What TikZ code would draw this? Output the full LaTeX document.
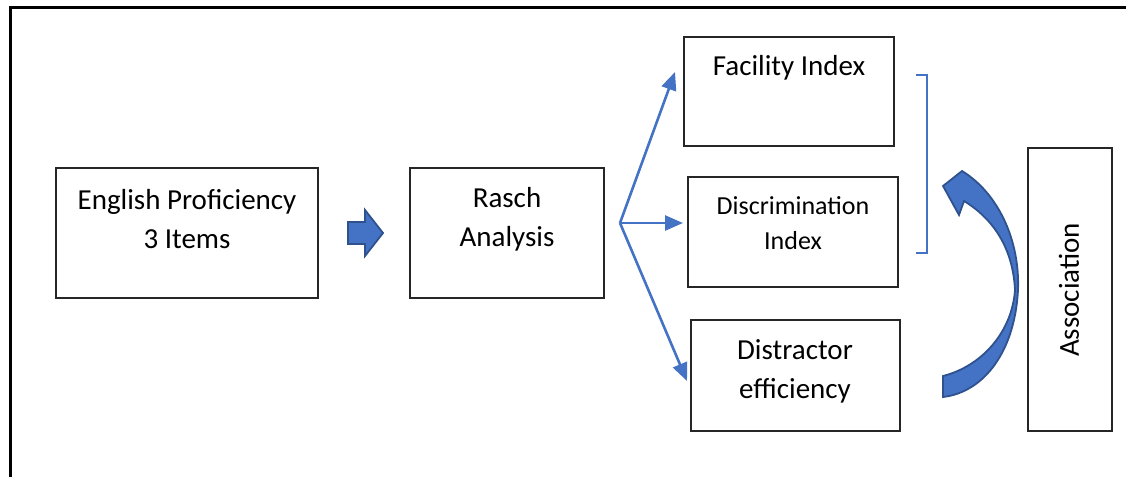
\documentclass[tikz,border=0pt]{standalone}
\usepackage{fontspec}
\setmainfont{Carlito}
\usetikzlibrary{arrows.meta}
\definecolor{accent}{HTML}{4472C4}
\definecolor{accentdark}{HTML}{2F528F}
\begin{document}
\begin{tikzpicture}[x=1pt,y=-1pt,
  box/.style={draw=black!85,line width=1.1pt,fill=white},
  lbl/.style={font=\fontsize{29}{39}\selectfont,align=center,inner sep=0pt},
  slbl/.style={font=\fontsize{26}{35}\selectfont,align=center,inner sep=0pt},
  link/.style={draw=accent,line width=2.6pt,-{Triangle[length=18pt,width=15pt]}},
  blockarrow/.style={fill=accent,draw=accentdark,line width=1.8pt,line join=miter}]
\useasboundingbox (0,0) rectangle (1126,477);
% outer frame
\draw[line width=3pt,black] (10,477) -- (10,7.5) -- (1126,7.5);
% boxes
\draw[box] (56,168) rectangle (318,298);
\node[lbl] (eng) at (187,219) {English Proficiency\\3 Items};
\draw[box] (410,168) rectangle (604,298);
\node[lbl] (rasch) at (507,219) {Rasch\\Analysis};
\draw[box] (684,37) rectangle (894,146);
\node[lbl] (fac) at (789,68) {Facility Index};
\draw[box] (688,177) rectangle (898,287);
\node[slbl] (disc) at (793,223) {Discrimination\\Index};
\draw[box] (691,320) rectangle (900,431);
\node[lbl] (dist) at (795,371) {Distractor\\efficiency};
\draw[box] (1028,148) rectangle (1112,431);
\node[lbl,rotate=90] (assoc) at (1069,290) {Association};
% anchor coordinates
\coordinate (split) at (620,223);
\coordinate (facin) at (675,72);
\coordinate (discin) at (683,223);
\coordinate (distin) at (687,381);
\draw[link] (split) -- (facin);
\draw[link] (split) -- (discin);
\draw[link] (split) -- (distin);
% block arrow
\draw[blockarrow] (348,222) -- (365,222) -- (365,210) -- (383,233) -- (365,256) -- (365,244) -- (348,244) -- cycle;
% bracket
\draw[accent,line width=1.2pt] (916,75) -- (927,75) -- (927,253) -- (916,253);
% curved arrow
\draw[blockarrow]
  (943,186) -- (962,171)
  .. controls (998,193) and (1020,240) .. (1018,290)
  .. controls (1015,350) and (985,392) .. (943,397)
  -- (943,376)
  .. controls (982,366) and (1012,332) .. (1015,290)
  .. controls (1013,250) and (995,220) .. (964,201)
  -- (959,215) -- cycle;
\end{tikzpicture}
\end{document}
